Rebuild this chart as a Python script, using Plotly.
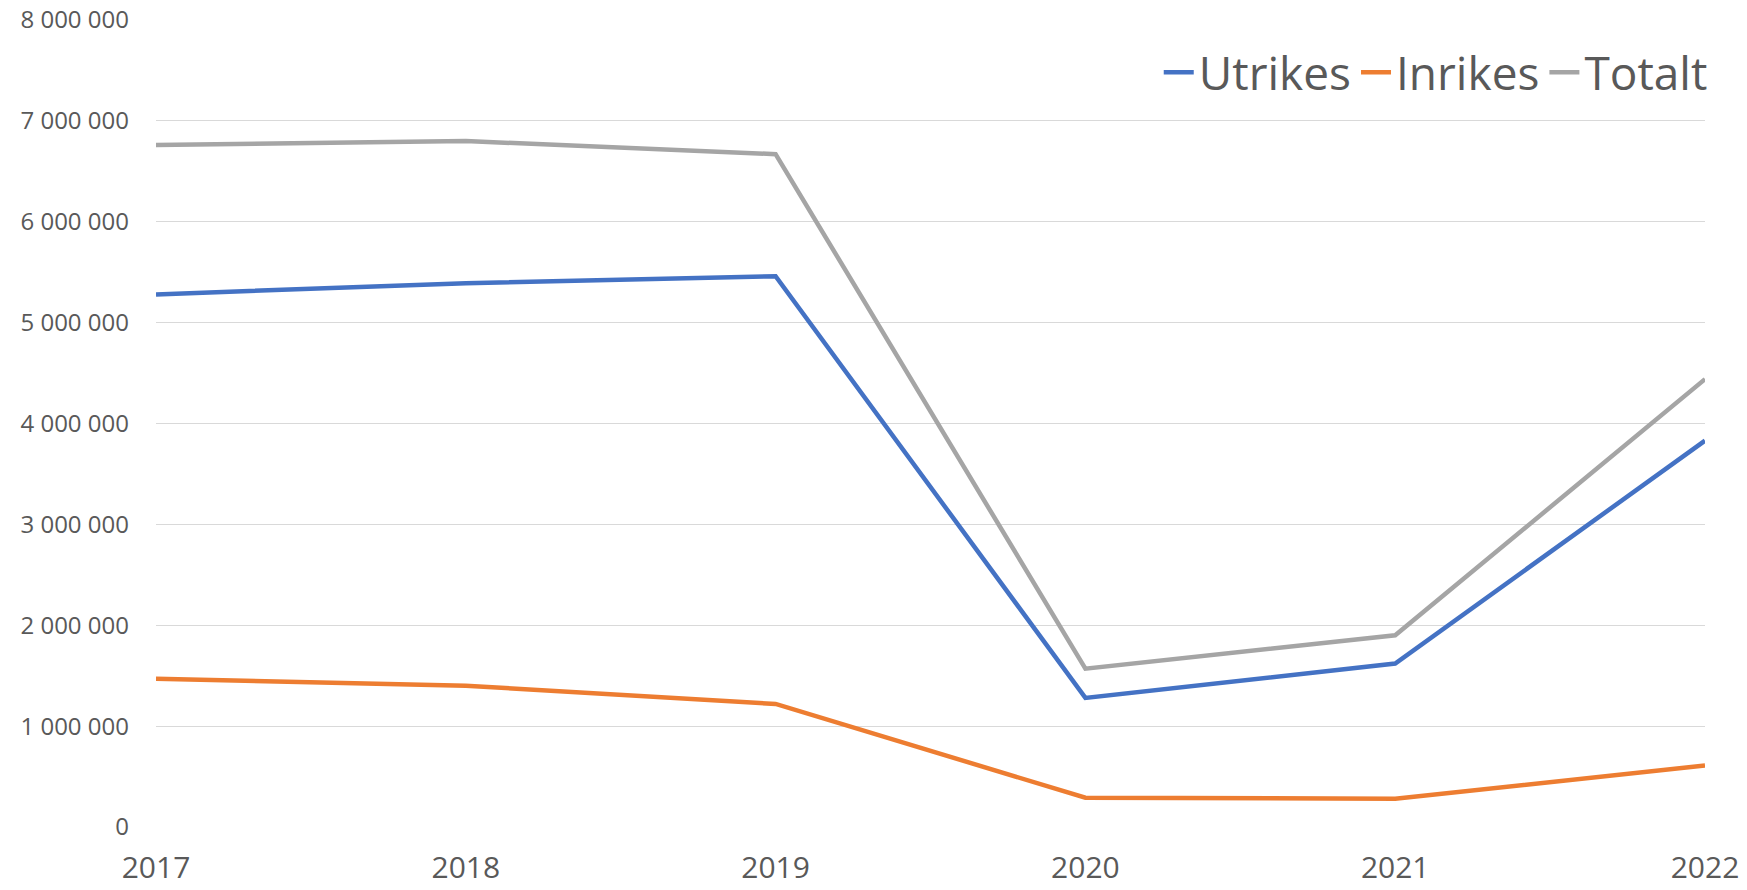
import plotly.graph_objects as go

years = [2017, 2018, 2019, 2020, 2021, 2022]
utrikes = [5280000, 5390000, 5460000, 1280000, 1620000, 3830000]
inrikes = [1470000, 1400000, 1220000, 290000, 280000, 610000]
totalt = [6760000, 6800000, 6670000, 1570000, 1900000, 4440000]
y_ticks = [0, 1000000, 2000000, 3000000, 4000000, 5000000, 6000000, 7000000, 8000000]
y_tick_text = ["0", "1 000 000", "2 000 000", "3 000 000", "4 000 000",
               "5 000 000", "6 000 000", "7 000 000", "8 000 000"]

fig = go.Figure()
fig.add_trace(go.Scatter(x=years, y=utrikes, mode="lines", name="Utrikes",
                         line=dict(color="#4472C4", width=4.5)))
fig.add_trace(go.Scatter(x=years, y=inrikes, mode="lines", name="Inrikes",
                         line=dict(color="#ED7D31", width=4.5)))
fig.add_trace(go.Scatter(x=years, y=totalt, mode="lines", name="Totalt",
                         line=dict(color="#A5A5A5", width=4.5)))

fig.update_layout(
    width=1747, height=890,
    margin=dict(l=156, r=42, t=20, b=63),
    paper_bgcolor="white", plot_bgcolor="white",
    font=dict(family="Open Sans", color="#595959"),
    legend=dict(orientation="h", x=1.005, xanchor="right", y=0.935, yanchor="middle",
                font=dict(size=46, color="#595959"), bgcolor="rgba(0,0,0,0)",
                itemwidth=30, traceorder="normal"),
    showlegend=True,
)
fig.update_xaxes(range=[2017, 2022], tickvals=years, ticktext=[str(y) for y in years],
                 showgrid=False, showline=False, zeroline=False,
                 tickfont=dict(size=30, color="#595959"), ticklabelstandoff=20,
                 automargin=False)
fig.update_yaxes(range=[0, 8000000], tickvals=y_ticks, ticktext=y_tick_text,
                 showgrid=True, gridcolor="#D9D9D9", gridwidth=1.3, zeroline=False,
                 showline=False, tickfont=dict(size=24, color="#595959"),
                 ticklabelstandoff=26, automargin=False)

fig.write_html("out.html", config={"displayModeBar": False},
               post_script="document.body.style.margin='0';document.body.style.overflow='hidden';")
